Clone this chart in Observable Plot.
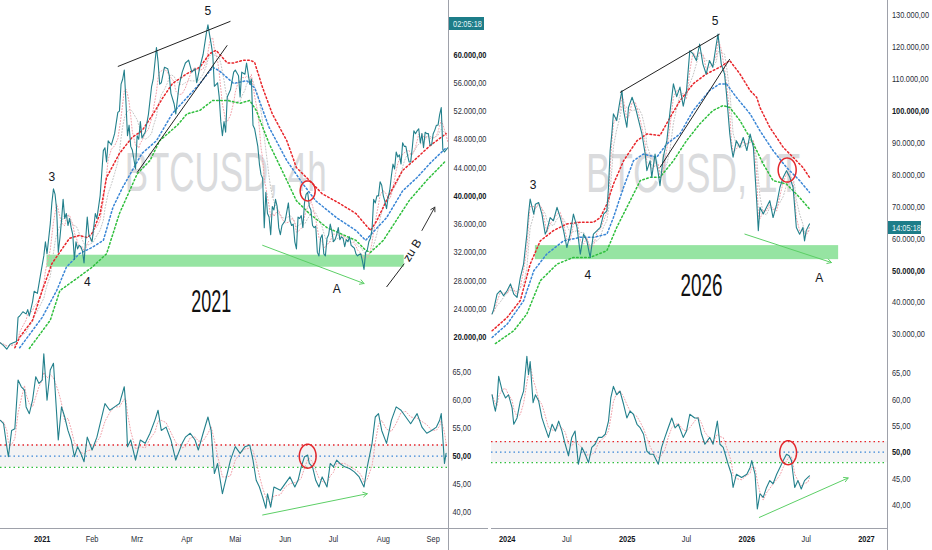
<!DOCTYPE html>
<html><head><meta charset="utf-8">
<script src="https://cdn.jsdelivr.net/npm/d3@7"></script>
<script src="https://cdn.jsdelivr.net/npm/@observablehq/plot@0.6"></script>
<style>
body{margin:0;background:#fff;}
#root{position:relative;width:932px;height:550px;overflow:hidden;background:#fff;}
.pane{position:absolute;}
.sep{position:absolute;background:#9ea1aa;}
.cd{position:absolute;background:#1d7d89;color:#e6f5f7;font:9.5px "Liberation Sans",Arial,sans-serif;line-height:13px;text-align:center;overflow:hidden;}
.cd span{display:inline-block;transform:scaleX(0.78);transform-origin:center;}
</style></head><body><div id="root"></div>
<script>
// ---------------- DATA ----------------
const price2021 = [["2020-12-06",19200],["2020-12-08",18800],["2020-12-10",18300],["2020-12-12",19000],["2020-12-14",19200],["2020-12-16",19400],["2020-12-17",22800],["2020-12-18",23000],["2020-12-20",23600],["2020-12-22",23300],["2020-12-23",23900],["2020-12-24",23000],["2020-12-26",25000],["2020-12-27",26500],["2020-12-29",26200],["2020-12-31",28900],["2021-01-02",31500],["2021-01-03",33500],["2021-01-04",31800],["2021-01-06",36000],["2021-01-07",39000],["2021-01-08",41000],["2021-01-09",40200],["2021-01-10",38000],["2021-01-11",32000],["2021-01-12",34000],["2021-01-13",36500],["2021-01-14",39500],["2021-01-15",36800],["2021-01-16",37500],["2021-01-17",35800],["2021-01-18",36800],["2021-01-19",35500],["2021-01-20",34500],["2021-01-21",31000],["2021-01-22",33500],["2021-01-23",32500],["2021-01-24",33000],["2021-01-25",32800],["2021-01-26",32200],["2021-01-27",30500],["2021-01-28",33800],["2021-01-29",37000],["2021-01-30",34500],["2021-02-01",33500],["2021-02-02",35500],["2021-02-03",37500],["2021-02-04",36800],["2021-02-06",40000],["2021-02-08",46400],["2021-02-09",46800],["2021-02-10",44800],["2021-02-11",47800],["2021-02-13",47200],["2021-02-15",48800],["2021-02-17",51800],["2021-02-18",52000],["2021-02-19",55800],["2021-02-20",56500],["2021-02-21",57800],["2021-02-22",53500],["2021-02-23",48500],["2021-02-24",50000],["2021-02-25",47000],["2021-02-26",46500],["2021-02-28",43800],["2021-03-01",48500],["2021-03-02",48000],["2021-03-03",50500],["2021-03-04",48200],["2021-03-06",49000],["2021-03-08",51500],["2021-03-10",55500],["2021-03-11",56500],["2021-03-13",61000],["2021-03-14",59000],["2021-03-15",55800],["2021-03-16",56000],["2021-03-18",58200],["2021-03-20",58000],["2021-03-21",57000],["2021-03-22",54500],["2021-03-24",53000],["2021-03-25",51600],["2021-03-27",55500],["2021-03-29",57500],["2021-03-31",58800],["2021-04-02",59200],["2021-04-04",57500],["2021-04-06",58000],["2021-04-07",56000],["2021-04-09",58200],["2021-04-11",60000],["2021-04-13",63000],["2021-04-14",64200],["2021-04-15",62800],["2021-04-16",61500],["2021-04-17",60000],["2021-04-18",55500],["2021-04-20",56000],["2021-04-21",54000],["2021-04-22",50500],["2021-04-23",48500],["2021-04-24",50500],["2021-04-25",49000],["2021-04-26",54000],["2021-04-28",55000],["2021-04-30",57500],["2021-05-01",57800],["2021-05-03",57000],["2021-05-04",54000],["2021-05-05",57500],["2021-05-07",57200],["2021-05-08",58800],["2021-05-10",55800],["2021-05-11",56500],["2021-05-12",50000],["2021-05-13",49500],["2021-05-15",47000],["2021-05-16",44500],["2021-05-17",43000],["2021-05-18",42500],["2021-05-19",35500],["2021-05-20",40500],["2021-05-21",37500],["2021-05-22",37000],["2021-05-23",34500],["2021-05-24",38500],["2021-05-25",38000],["2021-05-26",39500],["2021-05-27",38500],["2021-05-28",35500],["2021-05-29",34500],["2021-05-30",35800],["2021-06-01",36500],["2021-06-03",39000],["2021-06-04",36500],["2021-06-05",35800],["2021-06-06",36000],["2021-06-07",33500],["2021-06-08",32500],["2021-06-09",37000],["2021-06-10",36800],["2021-06-11",37200],["2021-06-12",35500],["2021-06-13",39000],["2021-06-14",40200],["2021-06-15",40500],["2021-06-16",38500],["2021-06-17",38000],["2021-06-18",35800],["2021-06-19",35500],["2021-06-20",35700],["2021-06-21",32000],["2021-06-22",31500],["2021-06-23",34000],["2021-06-24",34500],["2021-06-25",31800],["2021-06-26",31500],["2021-06-27",34000],["2021-06-28",34500],["2021-06-29",36000],["2021-06-30",35000],["2021-07-01",33500],["2021-07-02",33800],["2021-07-03",34500],["2021-07-04",35500],["2021-07-05",33800],["2021-07-06",34200],["2021-07-07",34000],["2021-07-08",32800],["2021-07-09",33800],["2021-07-10",33500],["2021-07-11",34200],["2021-07-12",33000],["2021-07-13",32800],["2021-07-14",32600],["2021-07-15",31800],["2021-07-16",31500],["2021-07-17",31700],["2021-07-18",31800],["2021-07-19",30800],["2021-07-20",29600],["2021-07-21",32000],["2021-07-22",32300],["2021-07-23",33500],["2021-07-24",34000],["2021-07-25",35300],["2021-07-26",39500],["2021-07-27",39000],["2021-07-28",40000],["2021-07-29",40000],["2021-07-30",42000],["2021-07-31",41500],["2021-08-01",40000],["2021-08-02",39200],["2021-08-03",38200],["2021-08-04",39800],["2021-08-05",40800],["2021-08-06",42800],["2021-08-07",44500],["2021-08-08",43800],["2021-08-09",46200],["2021-08-10",45500],["2021-08-11",45800],["2021-08-12",44500],["2021-08-13",47500],["2021-08-14",47000],["2021-08-15",47000],["2021-08-16",45800],["2021-08-17",44800],["2021-08-18",44800],["2021-08-19",46800],["2021-08-20",49200],["2021-08-21",48800],["2021-08-22",49200],["2021-08-23",49500],["2021-08-24",47500],["2021-08-25",48800],["2021-08-26",46800],["2021-08-27",49000],["2021-08-28",48800],["2021-08-29",48800],["2021-08-30",47200],["2021-08-31",47200],["2021-09-01",48800],["2021-09-02",49300],["2021-09-03",50000],["2021-09-04",50000],["2021-09-05",51500],["2021-09-06",52500],["2021-09-07",46500],["2021-09-08",46200],["2021-09-09",46500],["2021-09-10",46800]];
const red2021 = [["2020-12-15",18500],["2020-12-18",20000],["2020-12-26",22400],["2021-01-01",26600],["2021-01-07",30400],["2021-01-14",32700],["2021-01-18",34000],["2021-01-24",34400],["2021-01-29",34100],["2021-02-01",34700],["2021-02-06",37500],["2021-02-10",42600],["2021-02-18",46000],["2021-02-26",48300],["2021-03-04",49200],["2021-03-11",51600],["2021-03-17",53900],["2021-03-23",55900],["2021-04-01",57300],["2021-04-09",58200],["2021-04-15",60100],["2021-04-19",60600],["2021-04-26",58800],["2021-04-30",58800],["2021-05-06",59200],["2021-05-10",59200],["2021-05-13",58900],["2021-05-18",55300],["2021-05-24",51600],["2021-06-02",47800],["2021-06-08",44000],["2021-06-16",42200],["2021-06-24",40300],["2021-07-05",38900],["2021-07-15",37500],["2021-07-24",35100],["2021-07-28",36500],["2021-08-05",40300],["2021-08-13",43600],["2021-08-22",45400],["2021-08-30",47100],["2021-09-09",48800]];
const blue2021 = [["2020-12-18",18500],["2021-01-01",22800],["2021-01-10",26600],["2021-01-16",29900],["2021-01-24",31800],["2021-02-01",32700],["2021-02-08",33700],["2021-02-14",38400],["2021-02-20",41200],["2021-02-26",43600],["2021-03-04",46000],["2021-03-13",47800],["2021-03-23",51700],["2021-04-01",53900],["2021-04-09",55900],["2021-04-17",58200],["2021-04-21",57700],["2021-04-30",55900],["2021-05-08",56300],["2021-05-13",55300],["2021-05-22",49700],["2021-06-02",45000],["2021-06-12",41700],["2021-06-20",39300],["2021-07-03",36900],["2021-07-15",35100],["2021-07-21",33700],["2021-07-25",34700],["2021-08-03",36900],["2021-08-13",40700],["2021-08-22",42600],["2021-08-30",44600],["2021-09-09",46800]];
const green2021 = [["2020-12-24",18400],["2021-01-06",22400],["2021-01-12",26600],["2021-01-23",28400],["2021-02-01",29900],["2021-02-10",31800],["2021-02-18",37500],["2021-03-01",43100],["2021-03-09",45000],["2021-03-15",47800],["2021-03-26",50000],["2021-04-01",51600],["2021-04-09",52100],["2021-04-17",53500],["2021-04-26",53500],["2021-05-04",53100],["2021-05-10",53500],["2021-05-14",52100],["2021-05-22",47400],["2021-06-02",42200],["2021-06-08",39300],["2021-06-16",37500],["2021-06-27",35500],["2021-07-15",33700],["2021-07-21",32300],["2021-07-24",32000],["2021-08-01",33700],["2021-08-09",36500],["2021-08-17",39300],["2021-08-28",42200],["2021-09-09",45000]];
const rsi2021 = [["2020-12-06",56.4],["2020-12-08",55.8],["2020-12-10",51.7],["2020-12-11",49.9],["2020-12-13",54.6],["2020-12-15",54.9],["2020-12-17",63.6],["2020-12-19",62.4],["2020-12-21",61.8],["2020-12-22",58.8],["2020-12-24",57.6],["2020-12-26",60.0],["2020-12-28",64.2],["2020-12-30",63.0],["2021-01-01",63.6],["2021-01-02",68.3],["2021-01-04",60.0],["2021-01-06",65.4],["2021-01-08",66.6],["2021-01-11",52.9],["2021-01-13",58.8],["2021-01-15",57.0],["2021-01-17",54.6],["2021-01-19",52.9],["2021-01-21",49.9],["2021-01-23",51.7],["2021-01-25",50.5],["2021-01-27",49.0],["2021-01-29",53.4],["2021-02-01",51.1],["2021-02-04",53.4],["2021-02-06",55.8],["2021-02-09",59.4],["2021-02-12",58.2],["2021-02-15",58.8],["2021-02-18",59.4],["2021-02-21",62.4],["2021-02-22",58.8],["2021-02-23",51.7],["2021-02-25",52.9],["2021-02-28",49.3],["2021-03-03",52.9],["2021-03-06",52.3],["2021-03-09",54.1],["2021-03-12",56.4],["2021-03-14",58.2],["2021-03-16",54.6],["2021-03-19",55.2],["2021-03-22",52.9],["2021-03-25",49.3],["2021-03-29",52.3],["2021-03-31",53.4],["2021-04-03",54.1],["2021-04-06",52.9],["2021-04-08",51.1],["2021-04-11",54.1],["2021-04-14",57.0],["2021-04-16",54.6],["2021-04-18",46.9],["2021-04-20",48.7],["2021-04-23",43.3],["2021-04-26",46.9],["2021-04-28",49.3],["2021-05-01",51.7],["2021-05-04",50.5],["2021-05-07",51.7],["2021-05-10",52.0],["2021-05-12",49.3],["2021-05-14",45.7],["2021-05-16",44.5],["2021-05-18",42.7],["2021-05-20",40.7],["2021-05-21",43.3],["2021-05-23",40.9],["2021-05-25",44.5],["2021-05-29",43.9],["2021-06-01",45.1],["2021-06-04",46.3],["2021-06-07",44.5],["2021-06-09",45.7],["2021-06-11",48.1],["2021-06-13",49.9],["2021-06-15",50.2],["2021-06-16",48.7],["2021-06-18",48.1],["2021-06-20",45.7],["2021-06-22",44.5],["2021-06-24",46.3],["2021-06-27",44.5],["2021-06-29",48.7],["2021-07-01",48.1],["2021-07-03",49.3],["2021-07-05",48.7],["2021-07-08",48.1],["2021-07-11",47.8],["2021-07-14",47.2],["2021-07-17",46.3],["2021-07-19",45.1],["2021-07-20",44.5],["2021-07-22",48.1],["2021-07-25",52.3],["2021-07-27",57.0],["2021-07-29",57.6],["2021-07-31",54.6],["2021-08-03",52.3],["2021-08-06",56.4],["2021-08-09",58.8],["2021-08-12",58.2],["2021-08-15",57.0],["2021-08-18",55.8],["2021-08-22",57.6],["2021-08-25",55.2],["2021-08-28",54.1],["2021-08-31",54.6],["2021-09-03",55.2],["2021-09-05",56.4],["2021-09-06",57.6],["2021-09-08",48.7],["2021-09-09",50.5]];

const price2026 = [["2023-11-16",36400],["2023-11-21",37900],["2023-12-01",42600],["2023-12-11",43700],["2023-12-21",42100],["2024-01-01",43700],["2024-01-11",45800],["2024-01-21",42600],["2024-01-31",41600],["2024-02-10",47800],["2024-02-20",52000],["2024-03-01",61400],["2024-03-06",67700],["2024-03-11",72400],["2024-03-22",67700],["2024-03-27",70800],["2024-04-06",71300],["2024-04-16",67700],["2024-04-26",61400],["2024-05-01",62500],["2024-05-11",66600],["2024-05-21",65600],["2024-06-01",69800],["2024-06-11",66600],["2024-06-21",62500],["2024-07-01",57200],["2024-07-11",61400],["2024-07-21",67700],["2024-08-01",63500],["2024-08-11",55100],["2024-08-21",61400],["2024-08-31",59300],["2024-09-10",54100],["2024-09-20",61400],["2024-10-01",62500],["2024-10-11",63500],["2024-10-21",67700],["2024-10-31",68700],["2024-11-05",76100],["2024-11-10",87600],["2024-11-15",92800],["2024-11-20",99100],["2024-11-30",97000],["2024-12-10",103200],["2024-12-16",106400],["2024-12-21",100100],["2024-12-31",94900],["2025-01-05",101100],["2025-01-16",104300],["2025-01-26",101100],["2025-02-05",97000],["2025-02-15",92800],["2025-02-25",86500],["2025-03-02",81300],["2025-03-12",84400],["2025-03-17",79200],["2025-03-27",86500],["2025-04-06",80300],["2025-04-11",76600],["2025-04-21",85500],["2025-05-02",90700],["2025-05-12",100100],["2025-05-22",108500],["2025-06-01",104500],["2025-06-11",107500],["2025-06-21",101500],["2025-07-01",106400],["2025-07-11",118900],["2025-07-21",117900],["2025-07-31",115800],["2025-08-10",121000],["2025-08-20",114700],["2025-08-30",111600],["2025-09-09",115800],["2025-09-19",113700],["2025-09-30",121000],["2025-10-05",124100],["2025-10-15",114700],["2025-10-25",111600],["2025-10-31",105300],["2025-11-10",92800],["2025-11-15",88600],["2025-11-20",85500],["2025-11-30",90700],["2025-12-11",88600],["2025-12-21",91700],["2026-01-01",87600],["2026-01-11",92800],["2026-01-21",88600],["2026-01-31",71900],["2026-02-05",62500],["2026-02-10",69800],["2026-02-20",67700],["2026-03-02",69800],["2026-03-12",71900],["2026-03-22",66600],["2026-04-02",70800],["2026-04-12",76100],["2026-04-22",79200],["2026-05-02",81300],["2026-05-12",79200],["2026-05-22",76100],["2026-05-27",69800],["2026-06-01",63500],["2026-06-11",61400],["2026-06-21",63500],["2026-06-26",59300],["2026-07-01",62500],["2026-07-11",64600]];
const red2026 = [["2023-11-16",31100],["2024-01-01",35300],["2024-02-10",40600],["2024-03-11",52000],["2024-04-11",59300],["2024-05-21",62500],["2024-07-01",64600],["2024-08-11",65100],["2024-09-20",65100],["2024-10-11",66600],["2024-10-31",70800],["2024-11-20",77100],["2024-12-21",84400],["2025-01-31",90700],["2025-03-02",92800],["2025-04-11",92300],["2025-05-12",98000],["2025-06-11",103200],["2025-07-21",108500],["2025-08-30",111600],["2025-10-10",113700],["2025-11-10",115800],["2025-12-11",111600],["2026-01-11",106400],["2026-01-31",104300],["2026-02-10",101100],["2026-03-12",94900],["2026-04-22",88600],["2026-05-22",85500],["2026-06-21",82300],["2026-07-11",79200]];
const blue2026 = [["2023-11-16",29000],["2024-01-01",33200],["2024-02-20",40500],["2024-03-22",49900],["2024-05-01",55200],["2024-06-21",59300],["2024-08-11",60400],["2024-09-20",60400],["2024-10-31",61400],["2024-11-20",66600],["2024-12-21",76100],["2025-01-20",84400],["2025-02-19",86500],["2025-04-01",85500],["2025-05-02",89700],["2025-06-11",92800],["2025-07-21",100100],["2025-09-09",106400],["2025-10-10",108500],["2025-10-31",108500],["2025-11-30",104300],["2026-01-11",99100],["2026-02-10",93800],["2026-03-22",87600],["2026-05-02",82300],["2026-06-11",78200],["2026-07-11",74500]];
const green2026 = [["2023-11-26",27100],["2024-01-21",31100],["2024-03-01",36400],["2024-04-11",46800],["2024-06-01",52000],["2024-07-21",54100],["2024-09-10",54100],["2024-10-31",56200],["2024-11-30",63500],["2024-12-31",69800],["2025-02-10",78200],["2025-03-12",79200],["2025-04-11",79200],["2025-05-22",84400],["2025-07-01",90700],["2025-08-10",95900],["2025-09-19",100100],["2025-10-20",101700],["2025-11-10",101100],["2025-12-11",97000],["2026-01-21",89700],["2026-02-20",83400],["2026-03-22",78200],["2026-05-02",77100],["2026-06-11",72900],["2026-07-11",69300]];
const rsi2026 = [["2023-11-16",60.9],["2023-11-21",59.1],["2023-11-26",57.8],["2023-12-01",59.7],["2023-12-06",64.4],["2023-12-17",61.6],["2023-12-27",60.3],["2024-01-05",60.9],["2024-01-16",58.4],["2024-01-21",55.3],["2024-01-31",56.5],["2024-02-10",59.7],["2024-02-20",61.6],["2024-03-01",68.2],["2024-03-06",64.7],["2024-03-11",67.2],["2024-03-20",59.4],["2024-03-27",60.9],["2024-04-06",59.7],["2024-04-16",56.5],["2024-04-26",54.6],["2024-05-06",52.8],["2024-05-17",55.3],["2024-05-27",54.0],["2024-06-06",55.9],["2024-06-16",54.0],["2024-06-26",51.5],["2024-07-06",49.3],["2024-07-16",52.8],["2024-07-26",54.0],["2024-08-05",47.7],["2024-08-16",50.9],["2024-08-26",49.6],["2024-09-05",48.0],["2024-09-15",50.9],["2024-09-25",51.5],["2024-10-05",52.8],["2024-10-16",52.8],["2024-10-26",53.4],["2024-11-05",55.9],["2024-11-12",60.3],["2024-11-20",62.5],["2024-11-30",60.9],["2024-12-10",61.6],["2024-12-21",59.1],["2024-12-31",56.5],["2025-01-10",57.8],["2025-01-20",57.2],["2025-01-31",55.3],["2025-02-10",54.6],["2025-02-20",53.4],["2025-03-02",50.2],["2025-03-12",49.6],["2025-03-22",49.6],["2025-04-06",47.7],["2025-04-16",50.9],["2025-04-26",52.8],["2025-05-06",54.6],["2025-05-17",56.5],["2025-05-27",54.6],["2025-06-06",55.3],["2025-06-21",52.8],["2025-07-01",54.0],["2025-07-11",57.2],["2025-07-26",56.5],["2025-08-05",56.5],["2025-08-16",53.4],["2025-08-26",51.5],["2025-09-10",52.8],["2025-09-20",51.5],["2025-10-03",55.9],["2025-10-11",51.5],["2025-10-21",50.9],["2025-11-05",47.7],["2025-11-15",45.8],["2025-11-20",43.3],["2025-11-30",45.8],["2025-12-16",45.2],["2026-01-01",45.8],["2026-01-11",47.1],["2026-01-16",48.4],["2026-01-26",45.8],["2026-02-02",39.2],["2026-02-10",42.1],["2026-02-20",41.4],["2026-03-02",43.3],["2026-03-12",44.6],["2026-03-22",44.0],["2026-04-02",45.8],["2026-04-12",47.1],["2026-04-22",48.4],["2026-05-02",49.6],["2026-05-10",49.3],["2026-05-17",48.4],["2026-05-22",45.8],["2026-05-27",43.3],["2026-06-06",44.6],["2026-06-16",43.0],["2026-06-26",44.6],["2026-07-06",45.2],["2026-07-11",45.5]];

// tick values and labels
const priceTicks2021 = [24000,28000,32000,36000,44000,48000,52000,56000];
const priceTicksBold2021 = [20000,40000,60000];
const priceTicks2026 = [30000,40000,60000,70000,80000,90000,110000,120000,130000];
const priceTicksBold2026 = [50000,100000];
const rsiTicks = [40,45,55,60,65];
const rsiTicksBold = [50];
const rsiLevels = [52,50,48];
const xTicks2021 = ["2021-01-01","2021-02-01","2021-03-01","2021-04-01","2021-05-01","2021-06-01","2021-07-01","2021-08-01","2021-09-01"];
const xLabels2021 = ["2021","Feb","Mrz","Apr","Mai","Jun","Jul","Aug","Sep"];
const xTicks2026 = ["2024-01-01","2024-07-01","2025-01-01","2025-07-01","2026-01-01","2026-07-01","2027-01-01"];
const xLabels2026 = ["2024","Jul","2025","Jul","2026","Jul","2027"];

// annotations (data space)
const notes2021 = [["2021-04-14",66100,"5"],["2021-01-07",42600,"3"],["2021-01-29",27800,"4"],["2021-07-03",26850,"A"]];
const year2021 = [["2021-04-16",24900,"2021"]];
const mark2021 = [["2021-04-25",43200,"BTCUSD, 4h"]];
const lines2021 = [["2021-02-17",58300,"2021-04-28",64700],["2021-03-01",43300,"2021-04-26",61300],["2021-08-03",27100,"2021-08-14",30400]];
const greenArrow2021 = [["2021-05-18",33000,"2021-07-20",27600]];
const blackArrow2021 = [["2021-08-25",35100,"2021-09-02",38400]];
const zuB2021 = [["2021-08-19",32300,"zu B"]];
const circle2021 = [["2021-06-15",40700]];
const band2021 = [["2021-01-04","2021-08-14",29900,31600]];
const rsiCircle2021 = [["2021-06-15",50.0]];
const rsiArrow2021 = [["2021-05-18",39.5,"2021-07-22",43.3]];

const notes2026 = [["2025-09-26",128300,"5"],["2024-03-20",76600,"3"],["2024-09-03",48400,"4"],["2026-08-10",47600,"A"]];
const year2026 = [["2025-08-16",45200,"2026"]];
const mark2026 = [["2025-07-21",80300,"BTCUSD, 1T"]];
const lines2026 = [["2024-12-10",105800,"2025-10-10",124100],["2025-04-11",82300,"2025-11-10",116300]];
const greenArrow2026 = [["2025-12-26",61400,"2026-09-16",52500]];
const circle2026 = [["2026-05-04",81500]];
const band2026 = [["2024-03-27","2026-10-08",53400,57800]];
const rsiCircle2026 = [["2026-05-07",49.9]];
const rsiArrow2026 = [["2026-02-08",37.6,"2026-11-06",45.1]];

// ---------------- HELPERS ----------------
const D = s => new Date(s);
const rows = a => a.map(([d, v]) => ({date: D(d), value: v}));
const pts = a => a.map(([d, v, t]) => ({date: D(d), value: v, text: t}));
const segs = a => a.map(([d1, v1, d2, v2]) => ({d1: D(d1), v1, d2: D(d2), v2}));
const bands = a => a.map(([d1, d2, v1, v2]) => ({d1: D(d1), d2: D(d2), v1, v2}));
const de = d3.formatLocale({decimal: ",", thousands: ".", grouping: [3], currency: ["", ""]});
const fmt2 = de.format(",.2f");
const AXFONT = '"Liberation Sans",Arial,sans-serif';
const TXFONT = '"Liberation Sans",Arial,sans-serif';
const TEAL = "#23808c", RED = "#e8262b", BLUE = "#3a86d6", GREEN = "#2fbf3d";
const dotted = {strokeWidth: 1.5, strokeDasharray: "1.6,2.4", clip: true};
const AXSQUEEZE = 0.78;
const ellipse = ratio => ({draw(ctx, size) {
  const r = Math.sqrt(size / Math.PI), rx = r * ratio;
  for (let i = 0; i <= 48; i++) { const a = i / 48 * 2 * Math.PI; const px = rx * Math.cos(a), py = r * Math.sin(a); i ? ctx.lineTo(px, py) : ctx.moveTo(px, py); }
  ctx.closePath();
}});

const root = document.getElementById("root");
function place(svg, left, top, stretch) {
  const div = document.createElement("div");
  div.className = "pane"; div.style.left = left + "px"; div.style.top = top + "px";
  div.appendChild(svg); root.appendChild(div);
  d3.select(svg).selectAll("text").each(function() {
    const t = this.textContent; if (stretch && stretch[t]) { this.setAttribute("textLength", stretch[t]); this.setAttribute("lengthAdjust", "spacingAndGlyphs"); }
  });
  d3.select(svg).selectAll('g[aria-label$="tick label"] text').each(function() {
    const w = this.getComputedTextLength();
    if (w > 0) { this.setAttribute("textLength", (w * AXSQUEEZE).toFixed(1)); this.setAttribute("lengthAdjust", "spacingAndGlyphs"); }
  });
}

function pricePane(o) {
  const P = rows(o.price);
  return Plot.plot({
    width: o.width, height: 350, marginLeft: o.ml, marginRight: o.mr, marginTop: 0, marginBottom: 0,
    style: {background: "transparent", fontFamily: AXFONT, color: "#131722", overflow: "visible"},
    x: {type: "utc", domain: o.xDomain, range: o.xRange, axis: null},
    y: {domain: o.yDomain, range: o.yRange},
    marks: [
      Plot.rect(bands(o.band), {x1: "d1", x2: "d2", y1: "v1", y2: "v2", fill: "#96e4a2", clip: true}),
      Plot.text(pts(o.mark), {x: "date", y: "value", text: "text", fontSize: 56, fontFamily: AXFONT, fill: "#dadbdd", textAnchor: "middle"}),
      Plot.line(P, Plot.windowY({k: o.k2, anchor: "end"}, {x: "date", y: "value", stroke: "#c4c4c4", strokeWidth: 1, strokeDasharray: "1,2", clip: true})),
      Plot.line(P, Plot.windowY({k: o.k1, anchor: "end"}, {x: "date", y: "value", stroke: "#f2a1aa", strokeWidth: 1, strokeDasharray: "1,2", clip: true})),
      Plot.line(rows(o.green), {x: "date", y: "value", stroke: GREEN, ...dotted}),
      Plot.line(rows(o.blue), {x: "date", y: "value", stroke: BLUE, ...dotted}),
      Plot.line(rows(o.red), {x: "date", y: "value", stroke: RED, ...dotted}),
      Plot.line(P, {x: "date", y: "value", stroke: TEAL, strokeWidth: 1.1, clip: true}),
      Plot.link(segs(o.lines), {x1: "d1", y1: "v1", x2: "d2", y2: "v2", stroke: "#222", strokeWidth: 1}),
      Plot.arrow(segs(o.greenArrow), {x1: "d1", y1: "v1", x2: "d2", y2: "v2", stroke: "#5ccf66", strokeWidth: 1, headLength: 7}),
      Plot.arrow(segs(o.blackArrow || []), {x1: "d1", y1: "v1", x2: "d2", y2: "v2", stroke: "#333", strokeWidth: 1, headLength: 7}),
      Plot.dot(rows(o.circle), {x: "date", y: "value", r: o.cr, symbol: ellipse(0.75), stroke: "#e3262b", strokeWidth: 1.5, fill: "none"}),
      Plot.text(pts(o.notes), {x: "date", y: "value", text: "text", fontSize: 12, fontFamily: TXFONT, fill: "#131722"}),
      Plot.text(pts(o.zuB || []), {x: "date", y: "value", text: "text", fontSize: 12, fontFamily: TXFONT, fill: "#131722", rotate: -58}),
      Plot.text(pts(o.year), {x: "date", y: "value", text: "text", fontSize: 31, fontFamily: AXFONT, fill: "#111"}),
      Plot.axisY(o.ticks, {anchor: "right", tickSize: 0, tickPadding: o.pad, tickFormat: fmt2, fontSize: 9.5, fill: "#2a2e39"}),
      Plot.axisY(o.ticksBold, {anchor: "right", tickSize: 0, tickPadding: o.pad, tickFormat: fmt2, fontSize: 9.5, fontWeight: "bold", fill: "#131722"})
    ]
  });
}

function rsiPane(o) {
  const R = rows(o.rsi);
  const lab = new Map(o.xTicks.map((t, i) => [+D(t), o.xLabels[i]]));
  const isYear = d => d.getUTCMonth() === 0;
  return Plot.plot({
    width: o.width, height: 200, marginLeft: o.ml, marginRight: o.mr, marginTop: 0, marginBottom: 22,
    style: {background: "transparent", fontFamily: AXFONT, color: "#131722", overflow: "visible"},
    x: {type: "utc", domain: o.xDomain, range: o.xRange},
    y: {domain: [40, 65], range: o.yRange},
    marks: [
      Plot.rect([rsiLevels], {y1: d => d3.min(d), y2: d => d3.max(d), fill: "#787b86", fillOpacity: 0.09}),
      Plot.ruleY([rsiLevels[0]], {stroke: RED, strokeWidth: 1.3, strokeDasharray: "1.5,3"}),
      Plot.ruleY([rsiLevels[1]], {stroke: BLUE, strokeWidth: 1.3, strokeDasharray: "1.5,3"}),
      Plot.ruleY([rsiLevels[2]], {stroke: GREEN, strokeWidth: 1.3, strokeDasharray: "1.5,3"}),
      Plot.line(R, Plot.windowY({k: 3, anchor: "end"}, {x: "date", y: "value", stroke: "#f2a1aa", strokeWidth: 1, strokeDasharray: "1,2", clip: true})),
      Plot.line(R, {x: "date", y: "value", stroke: TEAL, strokeWidth: 1.1, clip: true}),
      Plot.arrow(segs(o.arrow), {x1: "d1", y1: "v1", x2: "d2", y2: "v2", stroke: "#5ccf66", strokeWidth: 1, headLength: 7}),
      Plot.dot(rows(o.circle), {x: "date", y: "value", r: 12, symbol: ellipse(0.7), stroke: "#e3262b", strokeWidth: 1.5, fill: "none"}),
      Plot.axisY(rsiTicks, {anchor: "right", tickSize: 0, tickPadding: o.pad, tickFormat: fmt2, fontSize: 9.5, fill: "#2a2e39"}),
      Plot.axisY(rsiTicksBold, {anchor: "right", tickSize: 0, tickPadding: o.pad, tickFormat: fmt2, fontSize: 9.5, fontWeight: "bold", fill: "#131722"}),
      Plot.axisX(o.xTicks.map(D).filter(d => !isYear(d)), {anchor: "bottom", tickSize: 0, tickPadding: 7, tickFormat: d => lab.get(+d), fontSize: 9.5, fill: "#2a2e39"}),
      Plot.axisX(o.xTicks.map(D).filter(isYear), {anchor: "bottom", tickSize: 0, tickPadding: 7, tickFormat: d => lab.get(+d), fontSize: 9.5, fontWeight: "bold", fill: "#131722"})
    ]
  });
}

// ---------------- LEFT (2021) ----------------
const xDom2021 = [D("2021-01-01"), D("2021-09-01")];
const xRng2021 = [41.7, 432.7];
place(pricePane({
  width: 490, ml: 0, mr: 42, pad: 5, xDomain: xDom2021, xRange: xRng2021,
  yDomain: [20000, 60000], yRange: [336.7, 54], k1: 5, k2: 10,
  price: price2021, red: red2021, blue: blue2021, green: green2021,
  band: band2021, mark: mark2021, lines: lines2021, greenArrow: greenArrow2021, blackArrow: blackArrow2021,
  circle: circle2021, cr: 10, notes: notes2021, zuB: zuB2021, year: year2021,
  ticks: priceTicks2021, ticksBold: priceTicksBold2021
}), 0, 0, {"BTCUSD, 4h": 202, "2021": 40});
place(rsiPane({
  width: 490, ml: 0, mr: 42, pad: 4, xDomain: xDom2021, xRange: xRng2021, yRange: [161.7, 21.7],
  rsi: rsi2021, arrow: rsiArrow2021, circle: rsiCircle2021, xTicks: xTicks2021, xLabels: xLabels2021
}), 0, 350);

// ---------------- RIGHT (2026) ----------------
const xDom2026 = [D("2024-01-01"), D("2027-01-01")];
const xRng2026 = [18.7, 378];
place(pricePane({
  width: 444, ml: 3, mr: 45, pad: 4.5, xDomain: xDom2026, xRange: xRng2026,
  yDomain: [30000, 130000], yRange: [333.8, 14.8], k1: 2, k2: 4,
  price: price2026, red: red2026, blue: blue2026, green: green2026,
  band: band2026, mark: mark2026, lines: lines2026, greenArrow: greenArrow2026,
  circle: circle2026, cr: 12, notes: notes2026, year: year2026,
  ticks: priceTicks2026, ticksBold: priceTicksBold2026
}), 488, 0, {"BTCUSD, 1T": 214, "2026": 42});
place(rsiPane({
  width: 444, ml: 3, mr: 45, pad: 4.5, xDomain: xDom2026, xRange: xRng2026, yRange: [154.3, 22.7],
  rsi: rsi2026, arrow: rsiArrow2026, circle: rsiCircle2026, xTicks: xTicks2026, xLabels: xLabels2026
}), 488, 350);

// ---------------- CHROME ----------------
function sep(l, t, w, h) { const d = document.createElement("div"); d.className = "sep"; Object.assign(d.style, {left: l + "px", top: t + "px", width: w + "px", height: h + "px"}); root.appendChild(d); }
sep(448, 0, 1, 550); sep(887, 0, 1, 550); sep(0, 528, 488, 1); sep(491, 528, 396, 1);
function countdown(text, l, t, w) { const d = document.createElement("div"); d.className = "cd"; const s = document.createElement("span"); s.textContent = text; d.appendChild(s); Object.assign(d.style, {left: l + "px", top: t + "px", width: w + "px", height: "13px"}); root.appendChild(d); }
countdown("02:05:18", 449, 17, 35);
countdown("14:05:18", 888, 221, 33);
</script></body></html>
